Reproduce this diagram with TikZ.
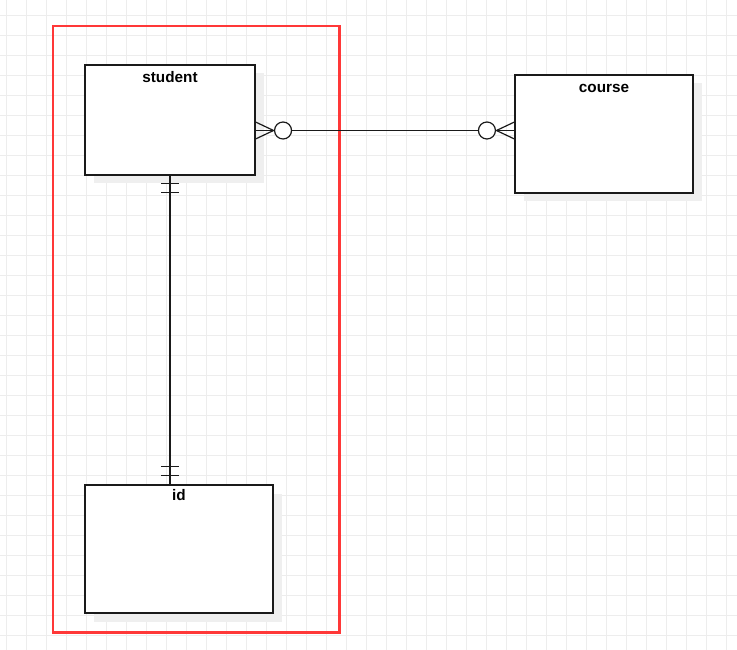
\documentclass[tikz,border=0pt]{standalone}
\usepackage{fontspec}
\setmainfont{Liberation Sans}
\usetikzlibrary{calc,shadows}
\definecolor{gridc}{HTML}{EDEDED}
\definecolor{shadowc}{HTML}{EFEFEF}
\definecolor{redc}{HTML}{FF3838}
\definecolor{linec}{HTML}{1A1A1A}
\tikzset{
  entity/.style={draw=linec, line width=1.1pt, fill=white, rectangle, inner sep=0pt,
    drop shadow={shadow xshift=8.5pt, shadow yshift=-8.5pt, fill=shadowc, opacity=1}},
  lbl/.style={font=\fontsize{15.3}{18}\selectfont\bfseries, inner sep=0pt, anchor=base},
  conn/.style={draw=linec, line width=1.2pt},
  ring/.style={draw=linec, line width=1.2pt, fill=white},
}
\begin{document}
\begin{tikzpicture}[x=1pt,y=-1pt]
\useasboundingbox (0,0) rectangle (737,650);
\fill[white] (0,0) rectangle (737,650);
% grid
\foreach \gx in {6,26,...,726} \draw[gridc, line width=0.9pt] (\gx,0) -- (\gx,650);
\foreach \gy in {15,35,...,645} \draw[gridc, line width=0.9pt] (0,\gy) -- (737,\gy);
% entities
\node[entity, minimum width=170pt, minimum height=110pt] (student) at (170,120) {};
\node[entity, minimum width=178pt, minimum height=118pt] (course) at (604,134) {};
\node[entity, minimum width=188pt, minimum height=128pt] (id) at (179,549) {};
\node[lbl] (studentlbl) at ([yshift=-18pt]student.north) {student};
\node[lbl] (courselbl) at ([yshift=-18pt]course.north) {course};
\node[lbl] (idlbl) at ([yshift=-16.5pt]id.north) {id};
% group frame
\draw[redc, line width=2.6pt] (53,26) rectangle (339.5,632.5);
% student -- course (many to many, zero or more)
\coordinate (sE) at ([yshift=-10.5pt]student.east);
\coordinate (cW) at ([yshift=3.5pt]course.west);
\draw[conn] (sE) -- (cW);
\draw[conn] ($(sE)+(0,-8.5)$) -- ($(sE)+(18,0)$) -- ($(sE)+(0,8.5)$);
\draw[ring] ($(sE)+(27.5,0)$) circle (8.5pt);
\draw[conn] ($(cW)+(0,-8.5)$) -- ($(cW)+(-18,0)$) -- ($(cW)+(0,8.5)$);
\draw[ring] ($(cW)+(-27.5,0)$) circle (8.5pt);
% student -- id (one and only one)
\coordinate (sS) at (student.south);
\coordinate (iN) at ([xshift=-9pt]id.north);
\draw[conn] (sS) -- (iN);
\draw[conn] ($(sS)+(-9,8)$) -- ($(sS)+(9,8)$);
\draw[conn] ($(sS)+(-9,17)$) -- ($(sS)+(9,17)$);
\draw[conn] ($(iN)+(-9,-9)$) -- ($(iN)+(9,-9)$);
\draw[conn] ($(iN)+(-9,-18)$) -- ($(iN)+(9,-18)$);
\end{tikzpicture}
\end{document}
